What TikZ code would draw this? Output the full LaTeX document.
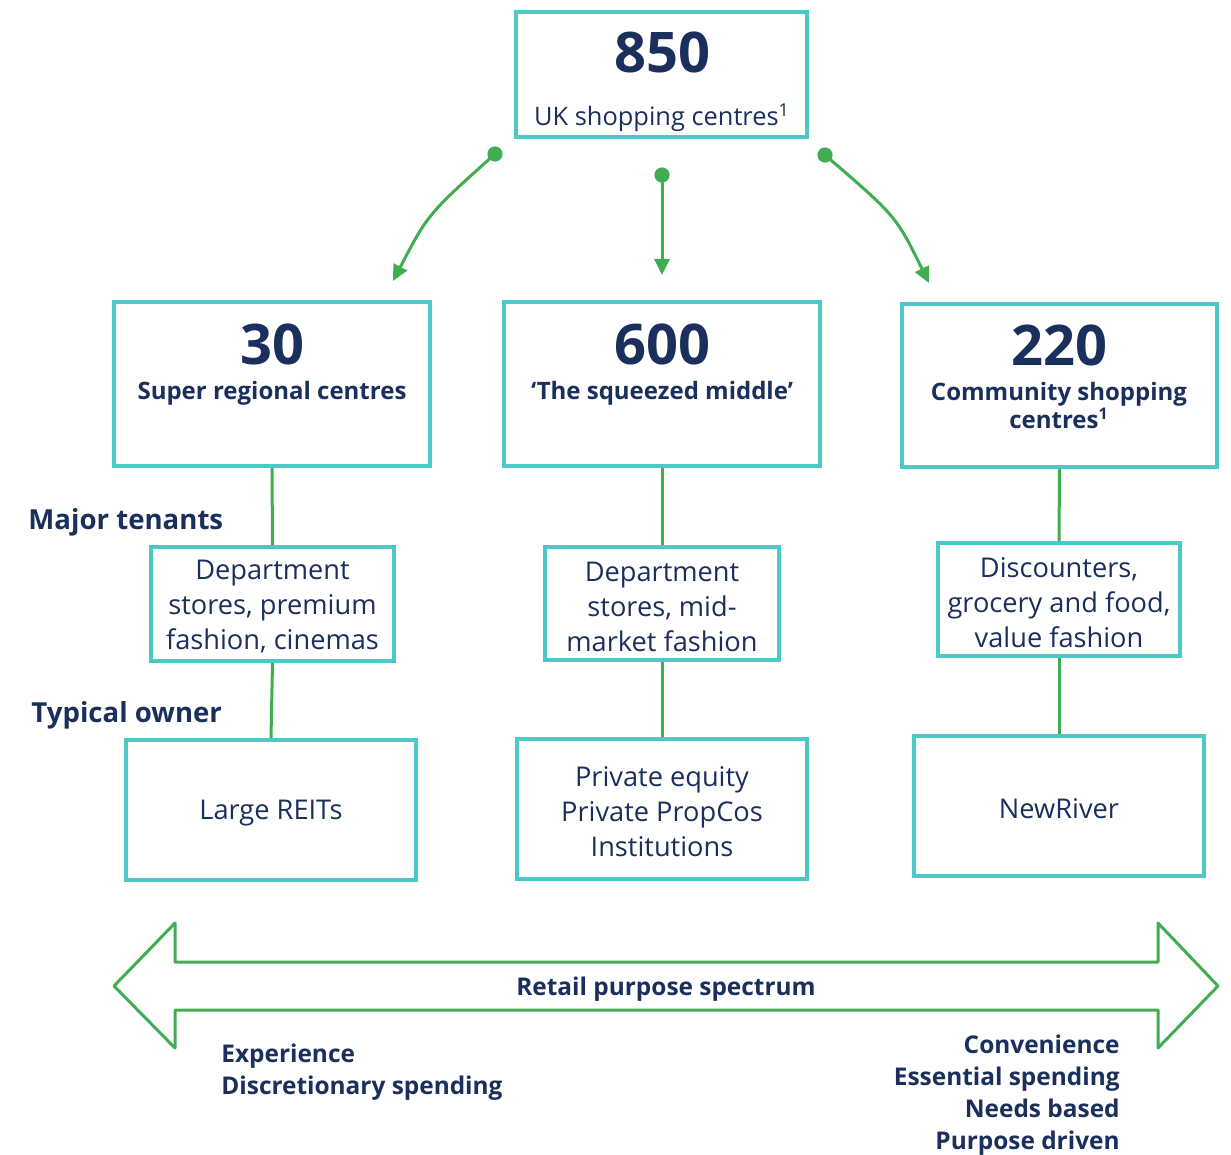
\documentclass[tikz,border=0pt]{standalone}
\usepackage{fontspec}
\setmainfont{Open Sans}
\usetikzlibrary{arrows.meta,positioning}

\definecolor{boxteal}{RGB}{77,200,200}
\definecolor{linegreen}{RGB}{64,174,80}
\definecolor{navy}{RGB}{26,47,92}

\tikzset{
  tealbox/.style={draw=boxteal, line width=2pt, inner sep=0pt},
  bignum/.style={text=navy, inner sep=0pt, font=\fontsize{28}{30}\selectfont\bfseries},
  headtext/.style={text=navy, inner sep=0pt, align=center, font=\fontsize{12}{14}\selectfont\bfseries},
  bodytext/.style={text=navy, inner sep=0pt, align=center, yshift=-1.5pt, font=\fontsize{13.6}{17.5}\selectfont},
  sidelabel/.style={text=navy, inner sep=0pt, anchor=west, font=\fontsize{13.8}{17}\selectfont\bfseries},
  foottext/.style={text=navy, inner sep=0pt, font=\fontsize{12.2}{16}\selectfont\bfseries},
  link/.style={draw=linegreen, line width=1.5pt},
  flow/.style={link, -{Triangle[length=8pt,width=7.5pt]}},
}

\begin{document}
\begin{tikzpicture}[x=0.5pt,y=-0.5pt]
  \useasboundingbox (0,0) rectangle (1231,1155);

  % top box
  \node[tealbox, minimum width=145.5pt, minimum height=62.5pt] (total) at (661.5,74.5) {};
  \node[bignum] (n850) at (662,52) {850};
  \node[bodytext, font=\fontsize{12.7}{16}\selectfont] (totaltxt) at (662,115) {UK shopping centres\textsuperscript{1}};

  % three categories
  \node[tealbox, minimum width=158pt, minimum height=82pt] (super) at (272,384) {};
  \node[tealbox, minimum width=158pt, minimum height=82pt] (middle) at (662,384) {};
  \node[tealbox, minimum width=157.5pt, minimum height=81.5pt] (commun) at (1059.5,385.5) {};

  \node[bignum] (n30) at (272,344) {30};
  \node[headtext] (supertxt) at (272,393) {Super regional centres};
  \node[bignum] (n600) at (662,344) {600};
  \node[headtext] (middletxt) at (662,393) {‘The squeezed middle’};
  \node[bignum] (n220) at (1059,345) {220};
  \node[headtext] (commtxt) at (1059,405) {Community shopping\\centres\textsuperscript{1}};

  % major tenants
  \node[sidelabel] (tenlbl) at (28,522) {Major tenants};
  \node[tealbox, minimum width=121.5pt, minimum height=57pt] (tensuper) at (272.5,604) {};
  \node[tealbox, minimum width=117pt, minimum height=56.5pt] (tenmiddle) at (662,603.5) {};
  \node[tealbox, minimum width=121pt, minimum height=56.5pt] (tencommun) at (1059,599.5) {};
  \node[bodytext] (tensupertxt) at (tensuper) {Department\\stores, premium\\fashion, cinemas};
  \node[bodytext] (tenmiddletxt) at (tenmiddle) {Department\\stores, mid-\\market fashion};
  \node[bodytext] (tencommuntxt) at (tencommun) {Discounters,\\grocery and food,\\value fashion};

  % typical owner
  \node[sidelabel] (ownlbl) at (31,715) {Typical owner};
  \node[tealbox, minimum width=145pt, minimum height=70pt] (ownsuper) at (271,810) {};
  \node[tealbox, minimum width=145pt, minimum height=70pt] (ownmiddle) at (662,809) {};
  \node[tealbox, minimum width=145pt, minimum height=70pt] (owncommun) at (1059,806) {};
  \node[bodytext] (ownsupertxt) at (ownsuper) {Large REITs};
  \node[bodytext] (ownmiddletxt) at (ownmiddle) {Private equity\\Private PropCos\\Institutions};
  \node[bodytext] (owncommuntxt) at (owncommun) {NewRiver};

  % links
  \draw[link] (super.south) -- (tensuper.north);
  \draw[link] (tensuper.south) -- (ownsuper.north);
  \draw[link] (middle.south) -- (tenmiddle.north);
  \draw[link] (tenmiddle.south) -- (ownmiddle.north);
  \draw[link] (commun.south) -- (tencommun.north);
  \draw[link] (tencommun.south) -- (owncommun.north);

  % split arrows
  \coordinate (dotl) at (495,154);
  \coordinate (dotm) at (662,175);
  \coordinate (dotr) at (825,155);
  \coordinate (tipl) at (393,281);
  \coordinate (tipm) at (662,275);
  \coordinate (tipr) at (929,283);
  \foreach \d in {dotl,dotm,dotr}
    \fill[linegreen] (\d) circle (3.8pt);
  \draw[flow] (dotl) .. controls (428,214) .. (tipl);
  \draw[flow] (dotm) -- (tipm);
  \draw[flow] (dotr) .. controls (896,216) .. (tipr);

  % spectrum arrow
  \draw[linegreen, line width=1.5pt, line join=round]
    (114,986) -- (175,923) -- (175,962) -- (1158,962) -- (1158,923) -- (1218,986)
    -- (1158,1048) -- (1158,1010) -- (175,1010) -- (175,1048) -- cycle;
  \node[foottext] (spectrum) at (666,989) {Retail purpose spectrum};

  \node[foottext, anchor=north west, align=left] (leftend) at (221,1044)
    {Experience\\Discretionary spending};
  \node[foottext, anchor=north east, align=right] (rightend) at (1120,1035)
    {Convenience\\Essential spending\\Needs based\\Purpose driven};
\end{tikzpicture}
\end{document}
